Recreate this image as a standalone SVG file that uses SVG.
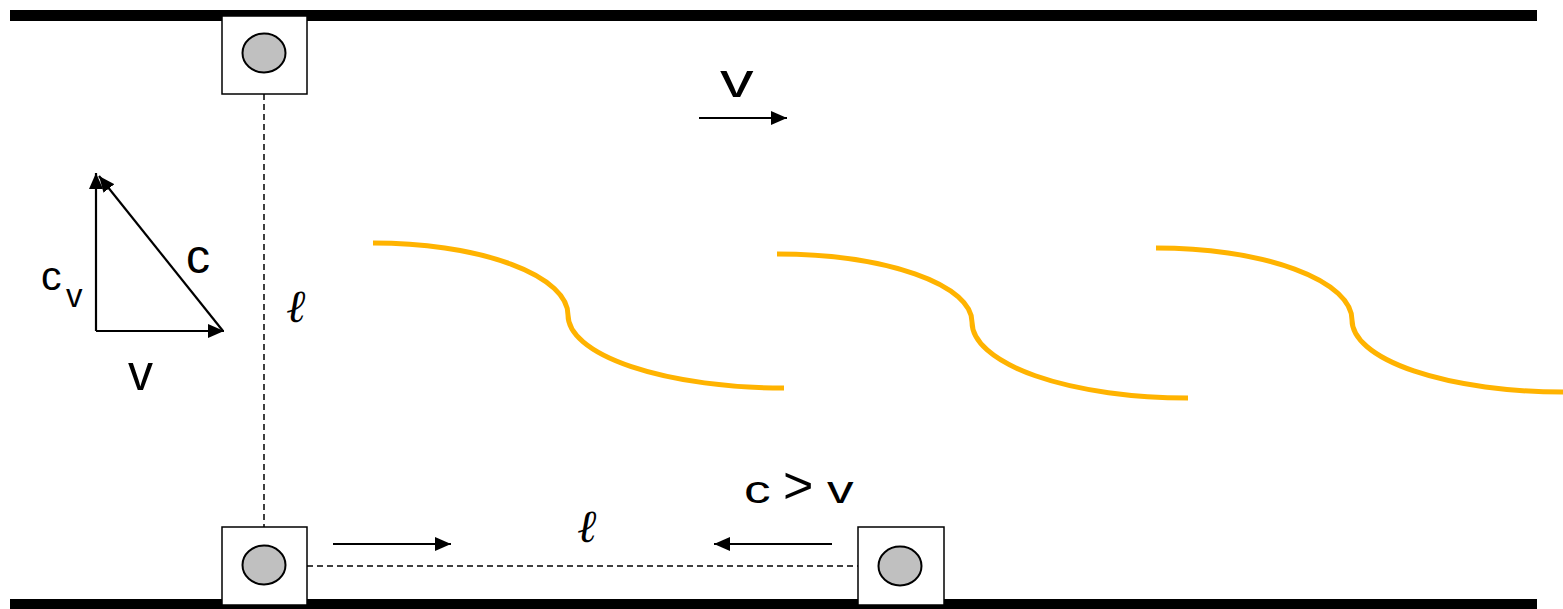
<svg xmlns="http://www.w3.org/2000/svg" width="1563" height="609" viewBox="0 0 1563 609">
<style>
.bar{fill:#000}
.box{fill:#fff;stroke:#000;stroke-width:1.5}
.ball{fill:#c0c0c0;stroke:#000;stroke-width:2}
.dash{stroke:#000;stroke-width:1.5;stroke-dasharray:6 4;fill:none}
.arr{stroke:#000;stroke-width:2.2;fill:none;marker-end:url(#ah)}
.wave{stroke:#ffb300;stroke-width:5;fill:none}
.t{font-family:"Liberation Sans",Arial,sans-serif;fill:#000}
.ell{font-family:"Liberation Serif","DejaVu Serif",serif;font-style:italic;fill:#000}
</style>
<defs>
<marker id="ah" markerUnits="userSpaceOnUse" markerWidth="18" markerHeight="14" refX="16" refY="7" orient="auto">
<path d="M0,0 L16,7 L0,14 Z" fill="#000"/>
</marker>
</defs>
<rect class="bar" x="10" y="10" width="1527" height="11"/>
<rect class="bar" x="10" y="599" width="1527" height="10"/>
<g id="connectors">
<line class="dash" x1="264" y1="94" x2="264" y2="527"/>
<line class="dash" x1="307" y1="566" x2="858" y2="566"/>
<line class="arr" x1="333" y1="544" x2="451" y2="544"/>
<line class="arr" x1="832" y1="544" x2="714" y2="544"/>
<line class="arr" x1="699" y1="118" x2="787" y2="118"/>
<line class="arr" x1="96" y1="331" x2="224" y2="331"/>
<line class="arr" x1="96" y1="331" x2="96" y2="173"/>
<line class="arr" x1="223" y1="331" x2="99" y2="176"/>
</g>
<g id="node-top">
<rect class="box" x="222" y="16" width="85" height="78"/>
<ellipse class="ball" cx="264" cy="53" rx="21.5" ry="19.5"/>
</g>
<g id="node-bottom-left">
<rect class="box" x="222" y="527" width="85" height="78"/>
<ellipse class="ball" cx="264" cy="565" rx="21.5" ry="19.5"/>
</g>
<g id="node-bottom-right">
<rect class="box" x="858" y="527" width="86" height="78"/>
<ellipse class="ball" cx="900" cy="566" rx="21.5" ry="19.5"/>
</g>
<g id="waves">
<path class="wave" d="M373,243 A195,72 0 0 1 568,315 A216,73 0 0 0 784,388"/>
<path class="wave" d="M777,254 A195,68 0 0 1 972,322 A216,76 0 0 0 1188,398"/>
<path class="wave" d="M1156,248 A196,72 0 0 1 1352,320 A211,72 0 0 0 1563,392"/>
</g>
<g id="labels">
<text class="t" font-size="48" transform="translate(720,97) scale(1.4,1)">v</text>
<text class="t" font-size="38" transform="translate(744,503) scale(1.4,1)">c</text>
<text class="t" font-size="52" x="783" y="503">&gt;</text>
<text class="t" font-size="38" transform="translate(827,503) scale(1.4,1)">v</text>
<text class="t" font-size="48" x="186" y="273">c</text>
<text class="t" font-size="50" x="128" y="390">v</text>
<text class="t" font-size="41" x="41" y="290">c</text>
<text class="t" font-size="33" x="66" y="307">v</text>
<text class="ell" font-size="46" x="286" y="322">ℓ</text>
<text class="ell" font-size="46" x="577" y="542">ℓ</text>
</g>
</svg>
